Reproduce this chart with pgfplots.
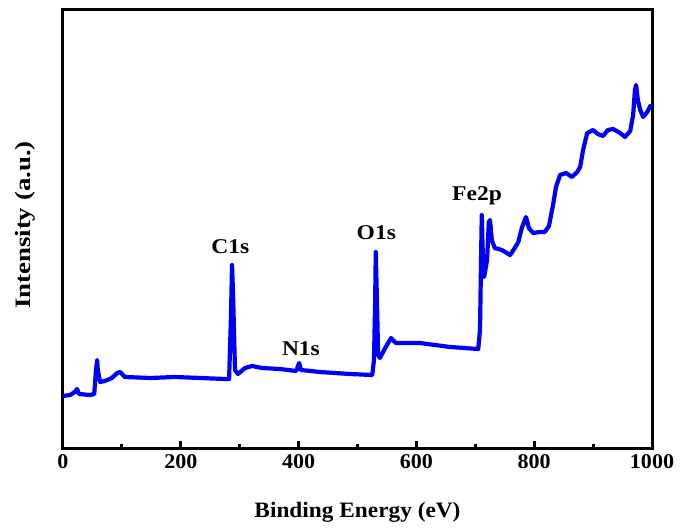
\documentclass[border=0pt]{standalone}
\usepackage{fontspec}
\setmainfont{Liberation Serif}
\usepackage{pgfplots}
\pgfplotsset{compat=1.18}
\definecolor{xpsblue}{RGB}{0,0,245}
\begin{document}
\begin{tikzpicture}
\begin{axis}[
  at={(0,0)}, anchor=south west,
  scale only axis, width=589pt, height=439pt,
  xmin=0, xmax=1000, ymin=0, ymax=439,
  axis line style={line width=3pt},
  xtick={0,200,400,600,800,1000},
  minor xtick={100,300,500,700,900},
  ytick=\empty,
  xtick pos=bottom,
  tick align=inside,
  major tick length=8pt, minor tick length=5pt,
  every tick/.style={line width=3pt, black},
  /pgf/number format/assume math mode=true,
  /pgf/number format/1000 sep={},
  xticklabel style={font=\bfseries\fontsize{21}{24}\selectfont, xscale=1.05, yshift=-2pt},
  xlabel={Binding Energy (eV)},
  ylabel={\scalebox{1.22}[1]{Intensity (a.u.)}},
  xlabel style={font=\bfseries\fontsize{22}{26}\selectfont, xscale=1.06, at={(axis description cs:0.5,0)}, anchor=center, yshift=-63pt},
  ylabel style={font=\bfseries\fontsize{22}{26}\selectfont, at={(axis description cs:-0.0645,0.51)}, anchor=center},
  clip=false,
]
\addplot[xpsblue, line width=4.2pt, line join=round] coordinates {
(0,53) (12,54) (20,57) (24,60) (27,55) (46,54) (53,55) (56,79) (58,89) (59,79)
(63,67) (71,68) (83,71) (92,76) (97,77) (105,72) (148,71) (190,72) (233,71)
(275,70) (282,70) (285,129) (287,184) (289,149) (292,79) (297,75) (309,81)
(321,83) (338,81) (368,80) (396,78) (399,83) (401,86) (404,79) (436,77)
(487,75) (525,74) (528,89) (530,149) (531,197) (533,149) (535,94) (538,91)
(547,101) (557,111) (565,106) (589,106) (606,106) (657,102) (705,100)
(708,119) (710,199) (711,234) (713,189) (715,172) (720,189) (723,227)
(725,229) (728,209) (733,201) (745,199) (759,194) (767,201) (773,207)
(779,221) (786,232) (791,221) (798,216) (810,217) (818,217) (825,223)
(832,244) (837,262) (844,274) (854,276) (864,272) (873,277) (878,282)
(883,299) (890,316) (900,319) (908,315) (917,313) (925,319) (934,320)
(946,316) (954,312) (963,318) (968,334) (971,359) (973,364) (976,349)
(980,339) (985,332) (992,337) (997,343) (1000,342)
};
\node[font=\bfseries\fontsize{21}{24}\selectfont, xscale=1.12] at (axis cs:284,202) {C1s};
\node[font=\bfseries\fontsize{21}{24}\selectfont, xscale=1.12] at (axis cs:404,100) {N1s};
\node[font=\bfseries\fontsize{21}{24}\selectfont, xscale=1.12] at (axis cs:532,216) {O1s};
\node[font=\bfseries\fontsize{21}{24}\selectfont, xscale=1.12] at (axis cs:703,253) {Fe2p};
\end{axis}
\pgfresetboundingbox
\path (-63pt,-83pt) rectangle (618pt,449pt);
\end{tikzpicture}
\end{document}
